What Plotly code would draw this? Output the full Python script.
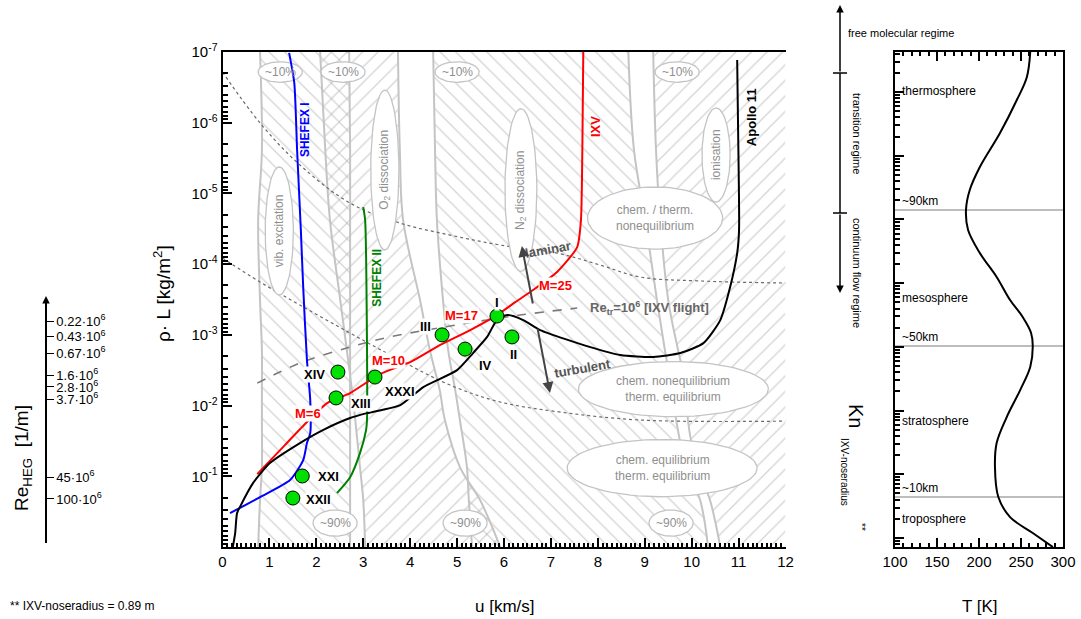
import math
import numpy as np
import plotly.graph_objects as go

W, H = 1081, 619
FONT = "Liberation Sans, Arial, sans-serif"
GREY_TXT = "#8f8f8f"
GREY_LINE = "#c4c4c4"
HATCH = "#a9a9a9"

# ---------------- flight trajectories: u [km/s] and rho*L [kg/m^2] ----------------
apollo_u = [10.97, 10.99, 11.01, 10.97, 10.82, 10.61, 10.25, 9.76, 9.18, 8.48, 7.84, 6.77, 6.41,
            6.07, 5.85, 5.64, 5.34, 5.00, 4.28, 3.79, 3.08, 2.72, 2.14, 1.65, 1.01, 0.65, 0.37,
            0.31, 0.27, 0.22]
apollo_rhoL = [1.30e-7, 1.27e-6, 3.30e-5, 6.97e-5, 2.11e-4, 6.18e-4, 1.31e-3, 1.81e-3, 2.06e-3,
               1.93e-3, 1.49e-3, 8.55e-4, 6.18e-4, 5.25e-4, 6.18e-4, 1.07e-3, 1.81e-3, 3.15e-3,
               5.47e-3, 9.84e-3, 1.28e-2, 1.50e-2, 2.22e-2, 3.39e-2, 6.50e-2, 0.125, 0.273,
               0.332, 0.635, 1.0]

ixv_u = [7.69, 7.67, 7.64, 7.56, 7.13, 6.62, 6.24, 5.85, 5.28, 4.64, 4.00, 3.36, 2.72, 2.23,
         1.80, 1.33, 0.74]
ixv_rhoL = [1.0e-7, 2.43e-6, 2.38e-5, 5.73e-5, 1.29e-4, 2.32e-4, 3.44e-4, 5.25e-4, 8.55e-4,
            1.39e-3, 2.43e-3, 3.58e-3, 6.65e-3, 9.23e-3, 1.71e-2, 3.62e-2, 9.31e-2]

shefex1_u = [1.42, 1.53, 1.59, 1.67, 1.72, 1.80, 1.87, 1.87, 1.80, 1.72, 1.44, 0.80, 0.16]
shefex1_rhoL = [1.03e-7, 2.74e-7, 2.43e-6, 3.30e-5, 2.11e-4, 2.27e-3, 8.36e-3, 2.45e-2,
                3.39e-2, 5.90e-2, 0.113, 0.197, 0.332]

shefex2_u = [3.00, 3.04, 3.08, 3.08, 3.06, 2.93, 2.72, 2.44]
shefex2_rhoL = [1.56e-5, 2.38e-5, 1.49e-3, 1.60e-2, 2.22e-2, 4.70e-2, 0.103, 0.173]

# Mach number stations along the IXV trajectory
mach_labels = ["M=25", "M=17", "M=10", "M=6"]
mach_u = [7.09, 5.09, 3.53, 1.82]
mach_rhoL = [1.98e-4, 5.25e-4, 2.27e-3, 1.28e-2]

# HEG test conditions
heg_names = ["I", "II", "III", "IV", "XIV", "XIII", "XXXI", "XXI", "XXII"]
heg_u = [5.85, 6.17, 4.68, 5.17, 2.46, 2.42, 3.25, 1.70, 1.50]
heg_rhoL = [5.42e-4, 1.07e-3, 1.0e-3, 1.59e-3, 3.36e-3, 7.8e-3, 3.95e-3, 0.099, 0.203]
heg_label_shift = [(0, 14), (2, -18), (-17, 8), (20, -16), (-23, -2), (25, -6), (25, -14),
                   (26, -1), (26, -1)]

# HEG unit Reynolds numbers
re_rhoL = [6.38e-4, 1.07e-3, 1.81e-3, 3.71e-3, 5.47e-3, 8.09e-3, 0.103, 0.210]
re_labels = ["0.22", "0.43", "0.67", "1.6", "2.8", "3.7", "45", "100"]

# transition Reynolds number line (Re_tr = 1e6, IXV flight)
retr_u = [0.74, 1.65, 2.72, 3.57, 4.85, 6.34, 7.56]
retr_rhoL = [4.81e-3, 2.51e-3, 1.49e-3, 1.07e-3, 7.50e-4, 5.25e-4, 4.18e-4]

# dotted regime borders
dot1_u = [0.0, 0.80, 1.65, 2.72, 3.78, 4.85, 5.92, 7.13, 8.05, 8.90, 10.18, 12.0]
dot1_rhoL = [1.92e-7, 1.01e-6, 3.96e-6, 1.37e-5, 2.62e-5, 3.88e-5, 5.37e-5, 6.97e-5, 1.03e-4,
             1.52e-4, 1.73e-4, 1.85e-4]
dot2_u = [0.0, 0.80, 1.65, 2.72, 3.78, 4.85, 5.92, 7.22, 8.90, 12.0]
dot2_rhoL = [8.20e-5, 1.79e-4, 3.79e-4, 9.44e-4, 2.27e-3, 5.13e-3, 8.91e-3, 1.24e-2, 1.60e-2,
             1.66e-2]

# ~10% / ~90% borders of the relaxation processes, sampled at these rho*L rows
band_rhoL = [1e-7, 2.43e-6, 2.38e-5, 3.22e-4, 1.64e-3, 6.04e-3, 1.6e-2, 7.41e-2, 0.217, 1.0]
vib_10 = [0.80, 0.84, 0.76, 0.80, 0.84, 0.84, 0.84, 0.84, 0.80, 0.76]
vib_90 = [2.70, 2.72, 2.72, 2.72, 2.72, 2.72, 2.72, 2.72, 2.72, 2.72]
o2_10 = [2.08, 2.19, 2.29, 2.51, 2.65, 2.76, 2.83, 2.93, 3.00, 3.04]
o2_90 = [3.74, 3.78, 3.85, 4.21, 4.42, 4.63, 4.74, 5.06, 5.49, 5.92]
n2_10 = [4.49, 4.53, 4.57, 4.70, 4.81, 4.96, 5.06, 5.21, 5.25, 5.32]
n2_90 = [8.65, 8.77, 9.01, 9.26, 9.43, 9.58, 9.67, 9.88, 10.18, 10.35]
ion_10 = [9.18, 9.24, 9.33, 9.50, 9.71, 9.90, 9.92, 10.12, 10.39, 10.61]

# atmosphere: temperature against Knudsen number (IXV nose radius)
atm_T = [261, 257, 245, 225, 201, 189, 184.5, 187, 201, 221, 237, 252, 262, 264, 261, 249, 233,
         221, 219, 223, 237, 264, 288]
atm_Kn = [4.25, 1.72, 0.748, 0.227, 0.0665, 0.029, 0.01406, 6.82e-3, 2.97e-3, 1.25e-3, 5.43e-4,
          2.94e-4, 1.65e-4, 1.03e-4, 4.83e-5, 2.10e-5, 7.92e-6, 3.10e-6, 1.30e-6, 4.40e-7,
          2.13e-7, 1.20e-7, 7.2e-8]
layer_border_Kn = [1.41e-2, 1.03e-4, 4.4e-7]
layer_border_text = ["~90km", "~50km", "~10km"]
layer_names = ["thermosphere", "mesosphere", "stratosphere", "troposphere"]
layer_Kn = [1.04, 5.85e-4, 6.86e-6, 1.99e-7]

RHO_RANGE = [0, -7]
KN_RANGE = [-7.141, 0.628]


def lg(v):
    return math.log10(v)


def px(x):
    return x / W


def py(y):
    return 1 - y / H


fig = go.Figure()

# ---------------- hatched process bands ----------------
def add_band(left, right, shape):
    xs = list(left) + list(reversed(right))
    ys = list(band_rhoL) + list(reversed(band_rhoL))
    fig.add_trace(go.Scatter(
        x=xs, y=ys, mode="lines", fill="toself", fillcolor="rgba(0,0,0,0)",
        line=dict(width=0), hoverinfo="skip", showlegend=False,
        fillpattern=dict(shape=shape, fgcolor=HATCH, size=11, solidity=0.12)))


add_band(vib_10, vib_90, "\\")
add_band(o2_10, o2_90, "/")
add_band(n2_10, n2_90, "\\")
add_band(ion_10, [12.0] * len(band_rhoL), "/")

for border in (vib_10, vib_90, o2_10, o2_90, n2_10, n2_90, ion_10):
    fig.add_trace(go.Scatter(x=border, y=band_rhoL, mode="lines",
                             line=dict(color=GREY_LINE, width=2, shape="spline"),
                             hoverinfo="skip", showlegend=False))

# dotted borders
for xs, ys in ((dot1_u, dot1_rhoL), (dot2_u, dot2_rhoL)):
    fig.add_trace(go.Scatter(x=xs, y=ys, mode="lines",
                             line=dict(color="#6a6a6a", width=1.2, dash="dot", shape="spline"),
                             hoverinfo="skip", showlegend=False))


# ---------------- white ellipses with process descriptions ----------------
def ellipse(cx, cy, w, h, n=80):
    t = np.linspace(0, 2 * np.pi, n)
    xs = cx + w / 2 * np.cos(t)
    ys = 10 ** (lg(cy) + h / 2 * np.sin(t))
    fig.add_trace(go.Scatter(x=xs, y=ys, mode="lines", fill="toself", fillcolor="white",
                             line=dict(color=GREY_LINE, width=1.3), hoverinfo="skip",
                             showlegend=False))


pct_top_u = [1.23, 2.57, 5.00, 9.69]
pct_bot_u = [2.40, 5.17, 9.56]
for u in pct_top_u:
    ellipse(u, 1.92e-7, 0.94, 0.29)
for u in pct_bot_u:
    ellipse(u, 0.459, 0.94, 0.37)

ellipse(1.21, 3.40e-5, 0.60, 1.81)   # vib. excitation
ellipse(3.46, 4.67e-6, 0.60, 2.26)   # O2 dissociation
ellipse(6.36, 8.95e-6, 0.68, 2.30)   # N2 dissociation
ellipse(10.52, 2.86e-6, 0.60, 1.33)  # ionisation
ellipse(9.22, 2.23e-5, 2.88, 0.88)   # chem./therm. nonequilibrium
ellipse(9.61, 5.85e-3, 4.05, 0.78)   # chem. noneq./therm. eq.
ellipse(9.37, 7.66e-2, 4.05, 0.81)   # chem. eq./therm. eq.

# transition Reynolds number
fig.add_trace(go.Scatter(x=retr_u, y=retr_rhoL, mode="lines",
                         line=dict(color="#7a7a7a", width=1.6, dash="dash", shape="spline"),
                         hoverinfo="skip", showlegend=False))

# ---------------- trajectories ----------------
for xs, ys, col in ((shefex1_u, shefex1_rhoL, "#0000ff"),
                    (shefex2_u, shefex2_rhoL, "#008000"),
                    (ixv_u, ixv_rhoL, "#ff0000"),
                    (apollo_u, apollo_rhoL, "black")):
    fig.add_trace(go.Scatter(x=xs, y=ys, mode="lines",
                             line=dict(color=col, width=2, shape="spline", smoothing=0.6),
                             hoverinfo="skip", showlegend=False))

fig.add_trace(go.Scatter(x=heg_u, y=heg_rhoL, mode="markers",
                         marker=dict(size=14, color="#00e000", line=dict(color="black", width=1)),
                         hoverinfo="skip", showlegend=False))

# ---------------- atmosphere panel ----------------
for kn in layer_border_Kn:
    fig.add_trace(go.Scatter(x=[100, 300], y=[kn, kn], xaxis="x3", yaxis="y3", mode="lines",
                             line=dict(color="#bdbdbd", width=2), hoverinfo="skip",
                             showlegend=False))
fig.add_trace(go.Scatter(x=atm_T, y=atm_Kn, xaxis="x3", yaxis="y3", mode="lines",
                         line=dict(color="black", width=2, shape="spline"), hoverinfo="skip",
                         showlegend=False))

# carrier for the Reynolds number axis
fig.add_trace(go.Scatter(x=[0], y=[1e-2], xaxis="x", yaxis="y4", mode="markers",
                         marker=dict(opacity=0), hoverinfo="skip", showlegend=False))

# ---------------- annotations ----------------
ann = []


def text(x, y, s, size=12, color="black", angle=0, xref="x", yref="y", bold=False,
         xanchor="center", bg=None, xshift=0, yshift=0):
    d = dict(x=x, y=y, xref=xref, yref=yref, text=f"<b>{s}</b>" if bold else s,
             showarrow=False, textangle=angle, xanchor=xanchor, yanchor="middle",
             font=dict(family=FONT, size=size, color=color), xshift=xshift, yshift=yshift)
    if bg:
        d["bgcolor"] = bg
        d["borderpad"] = 0
    ann.append(d)


for u in pct_top_u:
    text(u, lg(1.92e-7), "~10%", color=GREY_TXT)
for u in pct_bot_u:
    text(u, lg(0.459), "~90%", color=GREY_TXT)
text(1.21, lg(3.40e-5), "vib. excitation", color=GREY_TXT, angle=-90)
text(3.46, lg(4.67e-6), "O<sub>2</sub> dissociation", color=GREY_TXT, angle=-90)
text(6.36, lg(8.95e-6), "N<sub>2</sub> dissociation", color=GREY_TXT, angle=-90)
text(10.52, lg(2.86e-6), "ionisation", color=GREY_TXT, angle=-90)
text(9.22, lg(2.23e-5), "chem. / therm.<br>nonequilibrium", color=GREY_TXT)
text(9.61, lg(5.85e-3), "chem. nonequilibrium<br>therm. equilibrium", color=GREY_TXT)
text(9.37, lg(7.66e-2), "chem. equilibrium<br>therm. equilibrium", color=GREY_TXT)

text(7.80, lg(4.18e-4), "Re<sub>tr</sub>=10<sup>6</sup> [IXV flight]", size=13, color="#666666",
     bold=True, xanchor="left")

for s, u, r in zip(mach_labels, mach_u, mach_rhoL):
    text(u, lg(r), s, size=13, color="#ff0000", bold=True, bg="white")

for s, u, r, (dx, dy) in zip(heg_names, heg_u, heg_rhoL, heg_label_shift):
    text(u, lg(r), s, size=13, bold=True, bg="white", xshift=dx, yshift=dy)

text(1.76, lg(1.27e-6), "SHEFEX I", size=12, color="#0000ff", angle=-90, bold=True)
text(3.29, lg(1.57e-4), "SHEFEX II", size=12, color="#008000", angle=-90, bold=True)
text(7.94, lg(1.15e-6), "IXV", size=13, color="#ff0000", angle=-90, bold=True)
text(11.29, lg(8.3e-7), "Apollo 11", size=13, color="black", angle=-90, bold=True)

text(6.94, lg(6.3e-5), "laminar", size=13, color="#555555", angle=-10, bold=True)
text(7.67, lg(2.95e-3), "turbulent", size=13, color="#555555", angle=-10, bold=True)

for (hx, hy, tx, ty) in ((6.38, 5.54e-5, 6.62, 3.79e-4), (6.98, 6.65e-3, 6.71, 7.76e-4)):
    ann.append(dict(x=hx, y=lg(hy), ax=tx, ay=lg(ty), xref="x", yref="y", axref="x",
                    ayref="y", showarrow=True, arrowhead=2, arrowsize=1.1, arrowwidth=2,
                    arrowcolor="#444444", text=""))

# atmosphere layers
for kn, s in zip(layer_border_Kn, layer_border_text):
    text(106, lg(kn), s, size=12, xref="x3", yref="y3", xanchor="left", yshift=9)
for kn, s in zip(layer_Kn, layer_names):
    text(106, lg(kn), s, size=12, xref="x3", yref="y3", xanchor="left")

# axis titles and notes
text(px(505), py(606), "u [km/s]", size=17, xref="paper", yref="paper")
text(px(980), py(606), "T [K]", size=17, xref="paper", yref="paper")
text(px(162), py(294), "ρ· L [kg/m<sup>2</sup>]", size=19, angle=-90, xref="paper",
     yref="paper")
text(px(856), py(416), "Kn", size=20, angle=90, xref="paper", yref="paper")
text(px(845), py(472), "IXV-noseradius", size=10, angle=90, xref="paper", yref="paper")
text(px(862), py(527), "**", size=10, angle=90, xref="paper", yref="paper")
text(px(8), py(606), "** IXV-noseradius = 0.89 m", size=12, xref="paper", yref="paper",
     xanchor="left")
text(px(23), py(458), "Re<sub>HEG</sub>  [1/m]", size=19, angle=-90, xref="paper",
     yref="paper")

# flow regimes along Kn
text(px(846), py(33), "free molecular regime", size=11, xref="paper", yref="paper",
     xanchor="left")
text(px(857), py(133), "transition regime", size=11, angle=90, xref="paper", yref="paper")
text(px(857), py(273), "continuum flow regime", size=11, angle=90, xref="paper",
     yref="paper")


def arrow_px(x, y_head, y_tail):
    ann.append(dict(x=px(x), y=py(y_head), ax=0, ay=y_tail - y_head, xref="paper",
                    yref="paper", axref="pixel", ayref="pixel", showarrow=True, arrowhead=2,
                    arrowsize=1, arrowwidth=1.5, arrowcolor="black", text=""))


arrow_px(840, 5, 73)
arrow_px(840, 293, 213)
arrow_px(46, 296, 306)

shapes = [
    dict(type="line", xref="paper", yref="paper", x0=px(840), x1=px(840), y0=py(73), y1=py(213),
         line=dict(color="black", width=1.5)),
    dict(type="line", xref="paper", yref="paper", x0=px(833), x1=px(847), y0=py(73), y1=py(73),
         line=dict(color="black", width=1.5)),
    dict(type="line", xref="paper", yref="paper", x0=px(833), x1=px(847), y0=py(213),
         y1=py(213), line=dict(color="black", width=1.5)),
]

# ---------------- axes ----------------
dec_rho = [10.0 ** e for e in range(-7, 0)]
minor_rho = [k * 10.0 ** e for e in range(-7, 0) for k in range(2, 10)]
dec_kn = [10.0 ** e for e in range(-7, 1)]
minor_kn = [k * 10.0 ** e for e in range(-8, 1) for k in range(2, 10)]
tick_font = dict(family=FONT, size=15, color="black")

main_x = [px(222.5), px(785.5)]
main_y = [72 / H, 567 / H]

fig.update_layout(
    width=W, height=H, margin=dict(l=0, r=0, t=0, b=0, autoexpand=False),
    paper_bgcolor="white", plot_bgcolor="rgba(0,0,0,0)", showlegend=False,
    font=dict(family=FONT),
    xaxis=dict(domain=main_x, range=[0, 12], anchor="y", tickvals=list(range(13)),
               ticks="inside", ticklen=9, tickwidth=1.5, tickcolor="black",
               minor=dict(dtick=0.1, ticks="inside", ticklen=4, tickcolor="black"),
               showline=True, linewidth=2, linecolor="black", mirror=True,
               showgrid=False, zeroline=False, tickfont=tick_font, automargin=False),
    xaxis5=dict(overlaying="x", range=[0, 12], anchor="y", side="bottom",
                tickvals=[i + 0.5 for i in range(12)], ticks="inside", ticklen=6,
                tickcolor="black", showticklabels=False, showgrid=False, zeroline=False,
                showline=False, automargin=False),
    yaxis=dict(domain=main_y, type="log", range=RHO_RANGE, anchor="x",
               tickvals=dec_rho, ticktext=[f"10<sup>{e}</sup>" for e in range(-7, 0)],
               ticks="inside", ticklen=9, tickwidth=1.5, tickcolor="black",
               minor=dict(tickvals=minor_rho, ticks="inside", ticklen=5, tickcolor="black"),
               showline=True, linewidth=2, linecolor="black", showgrid=False,
               zeroline=False, tickfont=tick_font, automargin=False),
    yaxis2=dict(overlaying="y", side="right", anchor="x", type="log", range=KN_RANGE,
                tickvals=dec_kn, ticktext=[f"10<sup>{e}</sup>" for e in range(-7, 1)],
                ticks="inside", ticklen=9, tickwidth=1.5, tickcolor="black",
                minor=dict(tickvals=minor_kn, ticks="inside", ticklen=5, tickcolor="black"),
                showline=True, linewidth=2, linecolor="black", showgrid=False,
                zeroline=False, tickfont=tick_font, automargin=False),
    xaxis3=dict(domain=[px(895), px(1063)], range=[100, 300], anchor="y3",
                tickvals=[100, 150, 200, 250, 300], ticks="inside", ticklen=9, tickwidth=1.5,
                tickcolor="black",
                minor=dict(dtick=10, ticks="inside", ticklen=4, tickcolor="black"),
                showline=True, linewidth=2, linecolor="black", mirror="ticks",
                showgrid=False, zeroline=False, tickfont=tick_font, automargin=False),
    yaxis3=dict(domain=main_y, type="log", range=KN_RANGE, anchor="x3", tickvals=dec_kn,
                showticklabels=False, ticks="inside", ticklen=9, tickwidth=1.5,
                tickcolor="black",
                minor=dict(tickvals=minor_kn, ticks="inside", ticklen=5, tickcolor="black"),
                showline=True, linewidth=2, linecolor="black", mirror=True, showgrid=False,
                zeroline=False, automargin=False),
    yaxis4=dict(domain=[1 - 543 / H, 1 - 303 / H], anchor="free", position=px(46),
                side="right", type="log", range=[-0.055, -3.450], tickvals=re_rhoL,
                ticktext=[f"{s}·10<sup>6</sup>" for s in re_labels], ticks="outside",
                ticklen=7, tickwidth=1.2, tickcolor="black", showline=True, linewidth=1.5,
                linecolor="black", showgrid=False, zeroline=False, automargin=False,
                tickfont=dict(family=FONT, size=13, color="black")),
    annotations=ann,
    shapes=shapes,
)

fig.write_html("out.html")
